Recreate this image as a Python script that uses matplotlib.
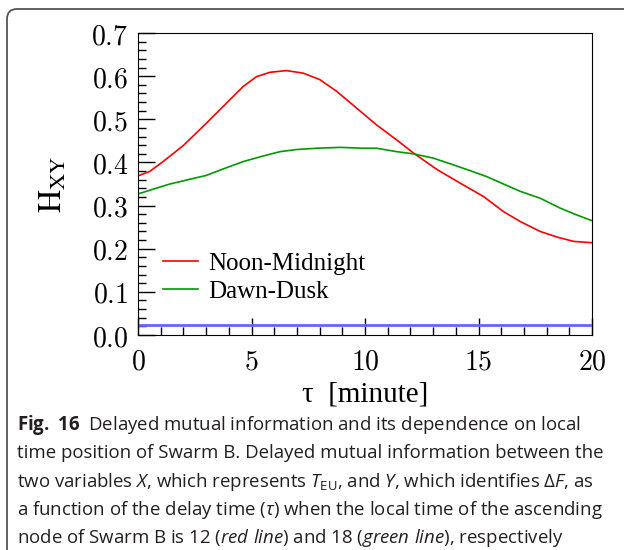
import matplotlib.pyplot as plt
import matplotlib.patches as mpatches
from matplotlib.ticker import MultipleLocator, FuncFormatter
import numpy as np

plt.rcParams['mathtext.fontset'] = 'cm'
plt.rcParams['mathtext.rm'] = 'Open Sans'
plt.rcParams['mathtext.it'] = 'Open Sans:italic'
plt.rcParams['mathtext.bf'] = 'Open Sans:bold'

# delay time (minutes) and mutual information
tau_red = [0, 0.51, 1.1, 1.99, 3.01, 4.04, 4.63, 5.22, 5.81, 6.54, 7.28, 8.01,
           8.75, 9.63, 10.51, 11.4, 12.13, 13.16, 14.19, 15.22, 16.1, 16.84,
           17.72, 18.46, 19.19, 20]
h_red = [0.369, 0.379, 0.402, 0.439, 0.491, 0.545, 0.576, 0.599, 0.609, 0.613,
         0.607, 0.592, 0.565, 0.526, 0.487, 0.452, 0.422, 0.384, 0.352, 0.321,
         0.286, 0.263, 0.240, 0.227, 0.217, 0.214]
tau_green = [0, 0.66, 1.4, 2.28, 3.01, 3.75, 4.63, 5.51, 6.25, 6.99, 7.87, 8.9,
             9.93, 10.51, 11.4, 12.13, 13.01, 13.75, 14.63, 15.37, 16.1, 16.84,
             17.72, 18.6, 19.34, 20]
h_green = [0.327, 0.338, 0.350, 0.361, 0.370, 0.385, 0.402, 0.415, 0.425, 0.430,
           0.433, 0.435, 0.433, 0.433, 0.425, 0.420, 0.410, 0.397, 0.381, 0.367,
           0.350, 0.333, 0.317, 0.294, 0.278, 0.265]
h_threshold = 0.023

fig = plt.figure(figsize=(6.24, 5.5), dpi=100)
ax = fig.add_axes([0.2212, 0.3909, 0.7276, 0.549])

ax.plot(tau_red, h_red, color='#ff0000', lw=1.2, label='Noon-Midnight')
ax.plot(tau_green, h_green, color='#009900', lw=1.2, label='Dawn-Dusk')
ax.axhline(h_threshold, color='#6464ff', lw=2)

ax.set_xlim(0, 20)
ax.set_ylim(0, 0.7)
ax.xaxis.set_major_locator(MultipleLocator(5))
ax.xaxis.set_minor_locator(MultipleLocator(1))
ax.yaxis.set_major_locator(MultipleLocator(0.1))
ax.yaxis.set_minor_locator(MultipleLocator(0.02))
ax.xaxis.set_major_formatter(FuncFormatter(lambda v, p: f'${v:.0f}$'))
ax.yaxis.set_major_formatter(FuncFormatter(lambda v, p: f'${v:.1f}$'))
ax.tick_params(which='both', direction='in', top=False, right=False, labelsize=20)
ax.tick_params(which='major', length=12, width=1)
ax.tick_params(which='minor', length=6, width=1)
ax.tick_params(axis='y', pad=7)
ax.tick_params(axis='x', pad=9)

ax.set_xlabel('τ  [minute]', family='Liberation Serif', fontsize=21, labelpad=4)
ax.set_ylabel(r'$\mathrm{H}_{\mathrm{XY}}$', fontsize=23, math_fontfamily='stix',
              labelpad=16)

ax.legend(loc='center left', bbox_to_anchor=(0.0055, 0.19), frameon=False,
          prop={'family': 'Liberation Serif', 'size': 18}, handlelength=1.4,
          handletextpad=0.4, labelspacing=0.2)

# caption
cap = [
    r'$\mathbf{Fig.\ 16}$  Delayed mutual information and its dependence on local',
    'time position of Swarm B. Delayed mutual information between the',
    r'two variables $\mathit{X}$, which represents $\mathit{T}_{\mathrm{EU}}$, and $\mathit{Y}$, which identifies Δ$\mathit{F}$, as',
    r'a function of the delay time ($\mathit{τ}$) when the local time of the ascending',
    r'node of Swarm B is 12 ($\mathit{red\ line}$) and 18 ($\mathit{green\ line}$), respectively',
]
for i, line in enumerate(cap):
    fig.text(17 / 624, 1 - (425 + 28.3 * i) / 550, line, family='Open Sans',
             fontsize=13.4, va='center', ha='left', math_fontfamily='custom',
             color='#231f20')

# rounded panel border
border = mpatches.FancyBboxPatch((0.07, -0.5), 7.0, 5.91,
                                 boxstyle='round,pad=0,rounding_size=0.1',
                                 transform=fig.dpi_scale_trans, fill=False,
                                 edgecolor='#555555', lw=1.3, clip_on=False)
fig.patches.append(border)

fig.savefig('out.png', dpi=100)
